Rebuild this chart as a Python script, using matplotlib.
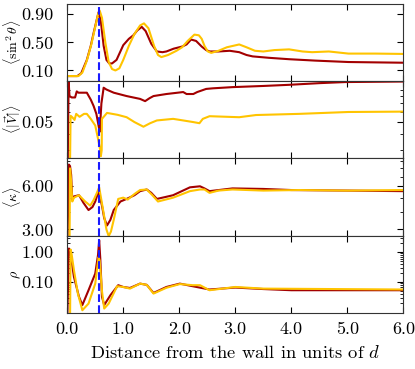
import numpy as np
import matplotlib
matplotlib.use('Agg')
from matplotlib import pyplot as plt
from matplotlib.ticker import FixedLocator, FormatStrFormatter, LogLocator, NullFormatter

plt.rcParams['font.family'] = 'serif'
plt.rcParams['font.serif'] = ['cmr10']
plt.rcParams['mathtext.fontset'] = 'cm'
plt.rcParams['axes.formatter.use_mathtext'] = True

# <sin^2 theta>
sin_x_red = [0.0, 0.18, 0.25, 0.35, 0.42, 0.47, 0.52, 0.56, 0.60, 0.65, 0.70, 0.75, 0.80, 0.88,
             1.0, 1.1, 1.18, 1.25, 1.33, 1.40, 1.5, 1.6, 1.7, 1.77, 1.9, 2.05, 2.13, 2.21, 2.30,
             2.40, 2.48, 2.54, 2.7, 2.9, 3.07, 3.2, 3.31, 3.6, 3.96, 4.43, 5.02, 5.5, 6.0]
sin_y_red = [0.02, 0.02, 0.06, 0.25, 0.45, 0.63, 0.80, 0.93, 0.80, 0.45, 0.25, 0.20, 0.20, 0.25,
             0.46, 0.55, 0.60, 0.67, 0.72, 0.66, 0.48, 0.37, 0.36, 0.37, 0.41, 0.44, 0.47, 0.54, 0.52,
             0.44, 0.39, 0.37, 0.37, 0.38, 0.36, 0.32, 0.30, 0.28, 0.26, 0.24, 0.22, 0.215, 0.21]
sin_x_yel = [0.0, 0.2, 0.27, 0.35, 0.43, 0.50, 0.55, 0.58, 0.62, 0.68, 0.74, 0.80, 0.86, 0.93,
             1.0, 1.1, 1.2, 1.3, 1.37, 1.45, 1.55, 1.62, 1.68, 1.8, 1.95, 2.05, 2.15, 2.27, 2.35,
             2.40, 2.45, 2.51, 2.57, 2.7, 2.85, 3.07, 3.2, 3.35, 3.5, 3.7, 3.96, 4.2, 4.37, 4.67,
             5.02, 5.5, 6.0]
sin_y_yel = [0.02, 0.02, 0.07, 0.24, 0.47, 0.72, 0.90, 0.95, 0.85, 0.50, 0.22, 0.12, 0.10, 0.13,
             0.25, 0.45, 0.62, 0.74, 0.77, 0.70, 0.45, 0.32, 0.29, 0.32, 0.38, 0.43, 0.52, 0.61, 0.60,
             0.55, 0.45, 0.37, 0.35, 0.38, 0.43, 0.47, 0.43, 0.38, 0.37, 0.39, 0.40, 0.37, 0.36, 0.37,
             0.34, 0.34, 0.335]

# <|V|>
v_x_red = [0.0, 0.025, 0.04, 0.08, 0.14, 0.17, 0.2, 0.28, 0.35, 0.42, 0.47, 0.52, 0.555, 0.58,
           0.61, 0.65, 0.7, 0.83, 1.06, 1.30, 1.39, 1.47, 1.54, 1.77, 2.07, 2.13, 2.25, 2.32,
           2.48, 2.6, 2.95, 3.5, 3.96, 4.5, 4.96, 6.0]
v_y_red = [0.01, 0.105, 0.08, 0.078, 0.078, 0.087, 0.085, 0.085, 0.085, 0.075, 0.067, 0.058, 0.048, 0.042,
           0.07, 0.093, 0.09, 0.085, 0.080, 0.076, 0.073, 0.077, 0.080, 0.083, 0.086, 0.083, 0.083, 0.086,
           0.091, 0.092, 0.094, 0.096, 0.098, 0.101, 0.103, 0.104]
v_x_yel = [0.0, 0.04, 0.06, 0.09, 0.13, 0.16, 0.22, 0.3, 0.35, 0.42, 0.5, 0.55, 0.59, 0.6, 0.615,
           0.62, 0.71, 0.9, 1.06, 1.2, 1.36, 1.48, 1.60, 1.89, 2.07, 2.25, 2.36, 2.42, 2.54, 3.07,
           3.37, 4.14, 5.02, 6.0]
v_y_yel = [0.01, 0.01, 0.056, 0.0546, 0.052, 0.058, 0.055, 0.058, 0.058, 0.053, 0.047, 0.037, 0.030, 0.027, 0.03,
           0.053, 0.059, 0.057, 0.0546, 0.050, 0.046, 0.049, 0.0515, 0.053, 0.0515, 0.050, 0.049, 0.053, 0.0556, 0.0546,
           0.0568, 0.058, 0.060, 0.0604]

# <kappa>
k_x_red = [0.0, 0.03, 0.05, 0.07, 0.09, 0.12, 0.21, 0.29, 0.38, 0.45, 0.50, 0.56, 0.62, 0.66, 0.71,
           0.77, 0.83, 0.95, 1.06, 1.2, 1.30, 1.42, 1.5, 1.60, 1.75, 1.89, 2.19, 2.37, 2.45, 2.54,
           2.95, 3.5, 4.0, 5.0, 6.0]
k_y_red = [2.0, 8.5, 8.3, 7.2, 4.8, 5.1, 5.2, 4.6, 4.1, 4.3, 4.7, 5.55, 4.4, 3.6, 3.2,
           3.5, 4.1, 4.7, 4.9, 5.2, 5.55, 5.7, 5.4, 4.9, 5.05, 5.2, 5.9, 6.0, 5.8, 5.55,
           5.8, 5.75, 5.65, 5.6, 5.55]
k_x_yel = [0.0, 0.04, 0.05, 0.07, 0.09, 0.12, 0.21, 0.32, 0.41, 0.47, 0.53, 0.57, 0.61, 0.65, 0.70,
           0.74, 0.78, 0.83, 0.91, 1.0, 1.08, 1.2, 1.30, 1.42, 1.52, 1.62, 1.89, 2.19, 2.37, 2.45,
           2.54, 2.7, 2.95, 3.5, 4.14, 5.0, 6.0]
k_y_yel = [2.0, 2.0, 8.0, 6.5, 4.7, 5.0, 5.2, 4.7, 4.4, 4.8, 5.4, 5.9, 4.8, 3.9, 3.0,
           2.7, 2.9, 3.5, 4.9, 5.0, 4.85, 5.3, 5.65, 5.7, 5.2, 4.7, 5.0, 5.55, 5.7, 5.7,
           5.4, 5.6, 5.7, 5.6, 5.65, 5.6, 5.65]

# rho
r_x_red = [0.0, 0.03, 0.05, 0.12, 0.21, 0.27, 0.38, 0.50, 0.55, 0.57, 0.59, 0.62, 0.66, 0.77, 0.91,
           1.0, 1.12, 1.30, 1.42, 1.54, 1.77, 2.01, 2.24, 2.54, 3.0, 3.5, 4.0, 6.0]
r_y_red = [0.005, 1.3, 1.14, 0.147, 0.032, 0.017, 0.053, 0.19, 0.8, 2.45, 0.6, 0.032, 0.017, 0.036, 0.078,
           0.068, 0.063, 0.088, 0.08, 0.043, 0.068, 0.088, 0.072, 0.056, 0.065, 0.058, 0.053, 0.053]
r_x_yel = [0.0, 0.05, 0.06, 0.08, 0.12, 0.19, 0.27, 0.38, 0.50, 0.56, 0.58, 0.62, 0.66, 0.74, 0.89,
           1.0, 1.12, 1.30, 1.42, 1.54, 1.77, 2.01, 2.24, 2.37, 2.54, 3.0, 3.5, 6.0]
r_y_yel = [0.005, 0.005, 1.2, 0.8, 0.245, 0.041, 0.0114, 0.019, 0.088, 0.68, 0.5, 0.05, 0.013, 0.019, 0.072,
           0.068, 0.06, 0.088, 0.08, 0.041, 0.064, 0.085, 0.078, 0.078, 0.053, 0.068, 0.06, 0.056]

x_wall = 0.57
xticks = [0.0, 1.0, 2.0, 3.0, 4.0, 5.0, 6.0]

red = '#a30000'
yel = '#ffc400'

fig, axs = plt.subplots(4, 1, sharex=True, figsize=(4.15, 3.69), dpi=100)
fig.subplots_adjust(left=0.162, right=0.972, top=0.99, bottom=0.152, hspace=0)

panels = [
    (sin_x_red, sin_y_red, sin_x_yel, sin_y_yel, r'$\langle\sin^2\theta\rangle$', 'linear', [0.1, 0.5, 0.9], (-0.05, 1.05)),
    (v_x_red, v_y_red, v_x_yel, v_y_yel, r'$\langle|\vec{V}|\rangle$', 'log', [0.05], (0.026, 0.105)),
    (k_x_red, k_y_red, k_x_yel, k_y_yel, r'$\langle\kappa\rangle$', 'log', [3.0, 6.0], (2.72, 9.4)),
    (r_x_red, r_y_red, r_x_yel, r_y_yel, r'$\rho$', 'log', [0.1, 1.0], (0.0093, 3.5)),
]

for ax, (xr, yr, xy, yy, lab, sc, yt, yl) in zip(axs, panels):
    ax.set_yscale(sc)
    ax.plot(xr, yr, color=red, lw=1.5)
    ax.plot(xy, yy, color=yel, lw=1.5)
    ax.axvline(x_wall, color='#1a1aff', ls='--', lw=1.5)
    ax.set_ylim(yl)
    ax.yaxis.set_major_locator(FixedLocator(yt))
    ax.yaxis.set_major_formatter(FormatStrFormatter('%.2f'))
    if sc == 'log':
        ax.yaxis.set_minor_locator(LogLocator(base=10, subs=np.arange(2, 10), numticks=20))
        ax.yaxis.set_minor_formatter(NullFormatter())
    ax.set_ylabel(lab, fontsize=10)
    ax.yaxis.set_label_coords(-0.133, 0.5)
    ax.tick_params(which='both', direction='in', top=True, right=True, labelsize=13)
    ax.tick_params(axis='y', which='major', pad=10)
    ax.tick_params(axis='x', which='major', pad=6)
    ax.tick_params(which='major', length=4)
    ax.tick_params(which='minor', length=2)
    for s in ax.spines.values():
        s.set_color('#333333')

axs[-1].set_xlim(0, 6)
axs[-1].set_xticks(xticks)
axs[-1].xaxis.set_major_formatter(FormatStrFormatter('%.1f'))
axs[-1].set_xlabel(r'Distance from the wall in units of $d$', fontsize=13.3, labelpad=5)

fig.savefig('out.png', dpi=100)
